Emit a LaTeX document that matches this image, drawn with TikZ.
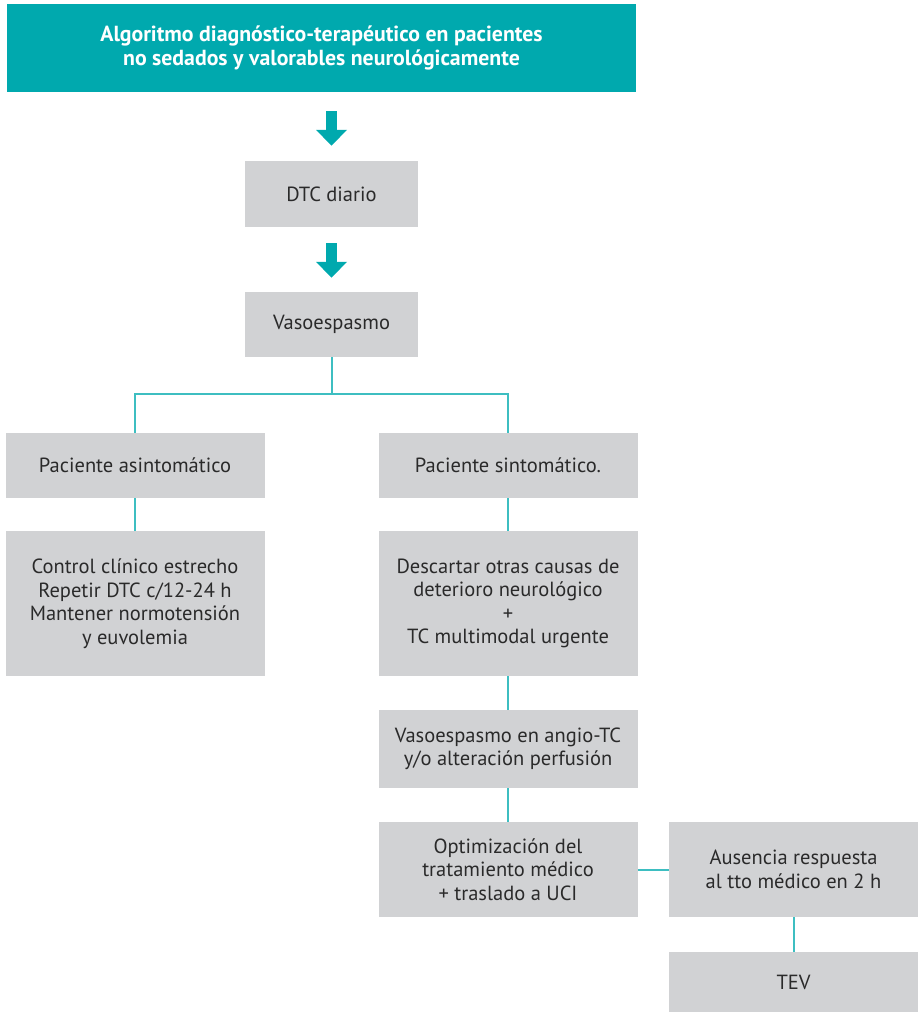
\documentclass[tikz,border=0pt]{standalone}
\usepackage{fontspec}
\setmainfont{PT Sans}
\usetikzlibrary{arrows.meta}
\definecolor{tealbox}{HTML}{00A9AE}
\definecolor{tealline}{HTML}{3DBEC1}
\definecolor{graybox}{HTML}{D1D2D4}
\definecolor{txt}{HTML}{2A2A2A}
\begin{document}
\begin{tikzpicture}[x=1pt,y=-1pt,
  box/.style={fill=graybox, inner sep=0pt, align=center, text=txt,
    font=\fontsize{20.5}{23.5}\selectfont},
  titlebox/.style={fill=tealbox, inner sep=0pt, align=center, text=white,
    font=\fontsize{21.8}{24}\selectfont\bfseries},
  link/.style={draw=tealline, line width=2pt},
  bigarrow/.style={draw=tealbox, line width=11pt, -{Triangle[length=16pt,width=30pt]}}]
\useasboundingbox (0,0) rectangle (919,1012);
\node[titlebox, minimum width=629pt, minimum height=88pt] (title) at (321.5,48)
  {Algoritmo diagnóstico-terapéutico en pacientes\\no sedados y valorables neurológicamente};
\node[box, minimum width=173pt, minimum height=66pt] (dtc) at (331.5,194) {DTC diario};
\node[box, minimum width=173pt, minimum height=65pt] (vaso) at (331.5,324.5) {Vasoespasmo};
\node[box, minimum width=259pt, minimum height=65pt] (asin) at (135,465.5) {Paciente asintomático};
\node[box, minimum width=259pt, minimum height=65pt] (sint) at (508,465.5) {Paciente sintomático.};
\node[box, minimum width=259pt, minimum height=145pt] (ctrl) at (135,603.5)
  {Control clínico estrecho\\Repetir DTC c/12-24 h\\Mantener normotensión\\y euvolemia};
\node[box, minimum width=259pt, minimum height=145pt] (desc) at (508,603.5)
  {Descartar otras causas de\\deterioro neurológico\\+\\TC multimodal urgente};
\node[box, minimum width=259pt, minimum height=78pt] (angio) at (508,749)
  {Vasoespasmo en angio-TC\\y/o alteración perfusión};
\node[box, minimum width=259pt, minimum height=95pt] (optim) at (508,869.5)
  {Optimización del\\tratamiento médico\\+ traslado a UCI};
\node[box, minimum width=249pt, minimum height=95pt] (aus) at (793.5,869.5)
  {Ausencia respuesta\\al tto médico en 2 h};
\node[box, minimum width=249pt, minimum height=60pt] (tev) at (793.5,982) {TEV};
\coordinate (split) at (331.5,394);
\draw[bigarrow, shorten <=19pt, shorten >=15pt] (title.south -| dtc) -- (dtc.north);
\draw[bigarrow, shorten <=16pt, shorten >=14pt] (dtc.south) -- (vaso.north);
\draw[link] (vaso.south) -- (split);
\draw[link] (split) -| (asin.north);
\draw[link] (split) -| (sint.north);
\draw[link] (asin.south) -- (ctrl.north);
\draw[link] (sint.south) -- (desc.north);
\draw[link] (desc.south) -- (angio.north);
\draw[link] (angio.south) -- (optim.north);
\draw[link] (optim.east) -- (aus.west);
\draw[link] (aus.south) -- (tev.north);
\end{tikzpicture}
\end{document}
